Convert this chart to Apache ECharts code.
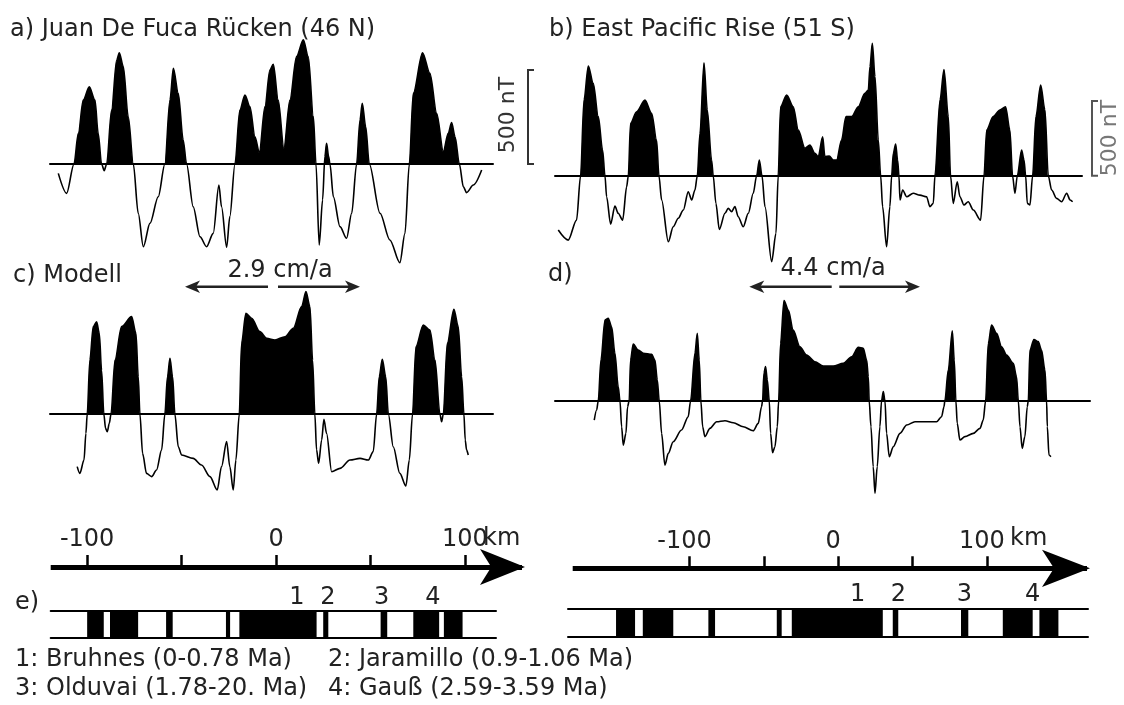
<!DOCTYPE html>
<html><head><meta charset="utf-8">
<script src="https://cdn.jsdelivr.net/npm/echarts@6/dist/echarts.min.js"></script>
<style>html,body{margin:0;padding:0;background:#fff}#c{width:1124px;height:705px}</style>
</head><body><div id="c"></div>
<script>
// ---- data (km along profile, anomaly in nT) ----
const profileA_km = [-115.2,-110.8,-106.9,-104.6,-102.0,-98.8,-95.8,-94.1,-92.3,-90.9,-89.6,-87.0,-84.3,-82.9,-80.8,-78.2,-75.5,-72.9,-70.2,-66.7,-62.3,-58.8,-56.1,-54.3,-51.7,-49.1,-47.3,-43.8,-40.2,-36.7,-33.2,-30.2,-28.8,-26.1,-24.4,-21.7,-19.1,-16.4,-13.8,-11.1,-8.8,-5.8,-3.2,-1.4,1.2,4.2,7.4,10.9,14.5,17.1,19.8,21.2,22.9,24.7,25.9,26.8,27.9,28.6,30.4,33.9,37.4,40.1,42.7,44.5,45.7,47.5,49.4,55.1,60.3,65.6,68.3,70.6,72.7,77.6,81.5,85.1,88.6,91.2,93.0,94.8,97.1,99.2,100.9,104.5,108.9];
const profileA_nT = [-50,-156,0,163,340,411,340,163,0,-35,0,287,553,592,518,252,0,-262,-440,-316,-174,0,340,509,376,128,0,-227,-387,-440,-369,-112,-227,-443,-280,0,287,367,305,145,60,305,500,530,340,83,340,571,660,571,252,0,-431,-191,39,110,39,0,-174,-333,-395,-262,0,234,323,199,0,-262,-404,-525,-369,0,376,592,482,269,66,163,220,145,0,-121,-152,-112,-32];

const profileB_km = [-188.3,-181.6,-176.0,-173.3,-171.0,-168.1,-164.8,-161.4,-158.5,-156.9,-155.8,-153.1,-150.2,-148.0,-145.0,-142.3,-141.2,-139.7,-135.6,-130.0,-125.5,-122.2,-120.6,-118.8,-114.3,-111.0,-107.6,-104.2,-100.9,-98.6,-96.4,-94.8,-93.0,-90.3,-88.1,-85.2,-84.1,-82.3,-80.0,-76.2,-74.0,-71.7,-69.5,-67.3,-63.9,-60.5,-57.2,-54.9,-53.1,-51.3,-49.3,-44.8,-41.9,-40.4,-38.8,-34.7,-30.3,-26.9,-22.4,-19.1,-15.7,-13.5,-10.5,-9.0,-6.1,-3.4,-1.1,2.2,5.2,9.0,13.5,17.9,20.2,21.3,22.9,24.7,26.9,28.5,29.8,32.5,34.7,35.9,37.0,38.6,39.9,40.8,41.5,43.3,46.0,50.4,54.9,59.4,61.6,63.9,65.0,68.4,71.1,74.0,75.5,77.3,80.0,81.8,84.5,87.4,90.8,95.7,98.0,99.8,104.2,108.7,112.5,115.4,117.2,118.8,120.4,123.3,124.9,126.0,127.1,128.9,130.7,132.9,136.1,139.0,141.2,143.5,146.8,150.2,153.6,155.9,157.6];
const profileB_nT = [-367,-435,-300,0,511,741,624,399,173,0,-142,-327,-205,-254,-300,-74,0,354,432,511,421,241,0,-164,-446,-345,-288,-232,-108,-164,-97,0,286,763,444,106,0,-187,-363,-254,-221,-243,-209,-277,-345,-254,-119,0,106,0,-209,-581,-390,0,466,545,466,309,185,207,151,128,263,128,133,106,106,241,399,399,466,556,579,736,894,669,241,0,-209,-480,-209,0,151,214,106,0,-164,-97,-142,-119,-131,-142,-209,-187,0,511,718,399,0,-187,-41,-142,-198,-176,-232,-300,0,309,399,444,466,309,0,-119,0,173,106,0,-187,-198,0,399,613,444,0,-97,-153,-176,-119,-164,-176];

const profileC_km = [-105.2,-103.8,-101.6,-100.6,-99.9,-98.5,-96.7,-94.9,-93.5,-92.3,-91.1,-90.2,-89.3,-88.2,-87.3,-85.2,-81.7,-76.4,-74.1,-72.9,-72.0,-70.6,-68.5,-65.8,-63.2,-60.5,-58.8,-57.4,-56.1,-54.7,-53.5,-51.7,-49.9,-43.8,-39.4,-34.9,-31.1,-28.8,-26.1,-24.4,-22.6,-21.2,-19.4,-18.2,-15.9,-12.9,-8.5,-4.9,-0.5,4.8,9.2,13.6,15.9,18.0,19.4,20.6,21.5,22.6,24.2,25.4,26.8,29.5,33.9,39.2,44.5,48.9,51.5,53.3,54.7,56.3,58.1,59.5,62.1,65.6,68.8,70.6,72.3,74.1,78.0,81.5,84.2,86.8,87.7,88.6,90.7,94.2,96.5,98.3,99.5,100.2,100.9,101.8];
const profileC_nT = [-280,-316,-245,-103,0,287,465,491,429,234,0,-76,-94,-50,0,287,465,518,429,199,0,-209,-316,-333,-298,-191,0,199,296,199,0,-174,-218,-236,-271,-333,-404,-280,-147,-280,-404,-245,0,376,535,509,438,402,394,411,456,571,651,571,287,0,-191,-262,-138,-28,-103,-307,-289,-245,-236,-245,-200,0,199,291,199,0,-174,-316,-383,-245,0,358,473,447,287,0,-41,0,376,557,465,199,0,-138,-191,-218];

const profileD_km = [-164.1,-162.5,-161.4,-159.6,-156.9,-154.7,-152.4,-150.2,-148.0,-146.8,-145.7,-144.6,-142.8,-141.7,-140.6,-139.7,-137.9,-134.5,-131.1,-125.5,-123.3,-121.7,-120.4,-118.8,-116.6,-114.3,-111.0,-105.4,-100.9,-99.3,-96.4,-94.8,-93.5,-92.4,-91.2,-89.7,-86.3,-81.8,-76.2,-70.6,-63.9,-57.2,-53.8,-51.6,-50.9,-50.0,-48.9,-47.7,-46.4,-45.5,-44.2,-42.6,-41.0,-40.1,-38.8,-36.5,-33.6,-30.3,-25.8,-21.3,-15.7,-10.1,-3.4,3.4,9.0,13.5,16.8,19.1,20.2,20.8,22.0,23.5,24.7,26.2,28.0,29.1,30.3,31.4,32.5,34.3,37.0,41.5,46.0,51.6,59.4,66.1,69.5,71.1,71.7,74.0,76.7,78.0,79.1,80.0,81.8,85.2,90.8,95.3,97.5,99.1,100.9,103.1,106.5,109.8,113.2,117.7,119.9,121.1,122.2,123.7,125.5,127.1,127.8,128.9,131.6,134.5,136.7,139.0,140.1,140.6,141.7,143.0];
const profileD_nT = [-131,-63,0,275,545,556,500,320,95,0,-176,-300,-221,-41,0,275,383,342,320,313,275,140,0,-221,-435,-356,-277,-198,-108,0,320,455,275,0,-176,-243,-187,-142,-135,-149,-176,-203,-153,-41,0,185,230,140,0,-221,-351,-311,-176,0,387,676,613,477,365,309,263,234,234,252,297,360,354,275,162,0,-176,-446,-626,-446,-176,0,61,0,-221,-378,-311,-221,-164,-142,-142,-142,-108,-41,0,207,473,275,0,-153,-266,-243,-221,-187,-131,0,387,511,455,365,309,252,162,0,-176,-322,-243,-41,0,342,414,399,342,207,0,-176,-367,-378];

// normal-polarity blocks [start km, end km]
const stripesLeft = [[-100.0,-91.2],[-87.9,-73.0],[-58.2,-54.7],[-26.5,-24.3],[-19.4,21.5],[25.0,27.7],[55.4,58.9],[72.7,86.4],[88.9,98.8]];
const stripesRight = [[-149.5,-136.7],[-131.5,-111.0],[-87.4,-82.9],[-41.4,-38.1],[-31.3,29.9],[36.6,40.3],[82.5,87.4],[110.6,130.7],[135.2,148.0]];
const stripeNumbers = ['1','2','3','4'];
const stripeNumKmLeft = [11.0, 27.5, 56.0, 83.1];
const stripeNumKmRight = [13.0, 40.3, 84.7, 130.7];
const kmTicks = [-100,-50,0,50,100];
const kmLabels = [-100,0,100];
const legendLines = ['1: Bruhnes (0-0.78 Ma)','2: Jaramillo (0.9-1.06 Ma)','3: Olduvai (1.78-20. Ma)','4: Gauß (2.59-3.59 Ma)'];

// ---- chart ----
const FONT = 'DejaVu Sans';
const TXT = '#222';
const chart = echarts.init(document.getElementById('c'), null, {renderer:'canvas'});
const pairs = (xs, ys) => xs.map((x, i) => [x, ys[i]]);

const grids = [
  {left:50, top:32.4, width:443, height:244.4},
  {left:555, top:27.7, width:527, height:251.6},
  {left:50, top:282.4, width:443, height:244.4},
  {left:555, top:252.7, width:535, height:251.6},
  {left:50.7, top:540, width:471.3, height:27},
  {left:572.7, top:541.3, width:514.3, height:27},
  {left:50.7, top:611, width:445.3, height:26.7},
  {left:568, top:609, width:520, height:27.7}
].map(g => Object.assign({containLabel:false, outerBoundsMode:'none'}, g));

const profX = (gi, min, max) => ({type:'value', gridIndex:gi, min, max,
  axisLine:{show:true, onZero:true, lineStyle:{color:'#000', width:2}},
  axisTick:{show:false}, axisLabel:{show:false}, splitLine:{show:false}});
const kmAxis = (gi, min, max, sym, pad) => ({type:'value', gridIndex:gi, min, max, position:'bottom',
  axisLine:{show:true, onZero:false, lineStyle:{color:'#000', width:5, cap:'butt'}, symbol:['none','arrow'], symbolSize:sym, symbolOffset:[0,3]},
  axisTick:{show:true, inside:true, length:12, lineStyle:{color:'#000', width:2.5}, customValues:kmTicks},
  axisLabel:{show:true, inside:true, margin:15, customValues:kmLabels, color:TXT, fontSize:24, fontFamily:FONT, padding:pad},
  splitLine:{show:false}});
const stripeAxis = (gi, min, max, pos) => ({type:'value', gridIndex:gi, min, max, position:pos,
  axisLine:{show:true, onZero:false, lineStyle:{color:'#000', width:2}},
  axisTick:{show:false}, axisLabel:{show:false}, splitLine:{show:false}});

const xAxis = [
  profX(0, -119.6, 114.9), profX(1, -190.5, 163.9), profX(2, -119.6, 114.9), profX(3, -190.5, 169.3),
  kmAxis(4, -119.3, 130.2, [27,45], [0,0,0,0]), kmAxis(5, -178.6, 167.3, [28,48], [0,10,0,0]),
  stripeAxis(6, -119.3, 116.5, 'bottom'), stripeAxis(6, -119.3, 116.5, 'top'),
  stripeAxis(7, -181.8, 167.9, 'bottom'), stripeAxis(7, -181.8, 167.9, 'top')
];
const yr = [[-600,700],[-700,1000],[-600,700],[-700,1000],[0,1],[0,1],[0,1],[0,1]];
const yAxis = yr.map((r, i) => ({type:'value', gridIndex:i, min:r[0], max:r[1], show:false, splitLine:{show:false}}));

const profiles = [pairs(profileA_km, profileA_nT), pairs(profileB_km, profileB_nT), pairs(profileC_km, profileC_nT), pairs(profileD_km, profileD_nT)];
const series = [];
profiles.forEach((d, i) => {
  series.push({type:'line', xAxisIndex:i, yAxisIndex:i, data:d, smooth:0.3, smoothMonotone:'x', symbol:'none', showSymbol:false,
    lineStyle:{width:0, opacity:0}, areaStyle:{opacity:1, color:'rgba(0,0,0,0)'}, z:2, silent:true});
  series.push({type:'line', xAxisIndex:i, yAxisIndex:i, data:d, smooth:0.3, smoothMonotone:'x', symbol:'none', showSymbol:false,
    lineStyle:{color:'#000', width:1.6}, itemStyle:{color:'#000'}, z:3, silent:true});
});
const stripeRender = (params, api) => {
  const p0 = api.coord([api.value(0), 1]);
  const p1 = api.coord([api.value(1), 0]);
  return {type:'rect', shape:{x:p0[0], y:p0[1], width:p1[0]-p0[0], height:p1[1]-p0[1]}, style:{fill:'#000'}};
};
series.push({type:'custom', xAxisIndex:6, yAxisIndex:6, data:stripesLeft, renderItem:stripeRender, z:3, silent:true});
series.push({type:'custom', xAxisIndex:8, yAxisIndex:7, data:stripesRight, renderItem:stripeRender, z:3, silent:true});

chart.setOption({animation:false, backgroundColor:'#fff', grid:grids, xAxis, yAxis, series});

// positive half of each profile filled black: gradient with a hard stop at the zero line of its axis
const areaUpdates = [];
profiles.forEach((d, i) => {
  const yTop = chart.convertToPixel({yAxisIndex:i}, yr[i][1]);
  const yBot = chart.convertToPixel({yAxisIndex:i}, yr[i][0]);
  const yZero = chart.convertToPixel({yAxisIndex:i}, 0);
  const f = (yZero - yTop) / (yBot - yTop);
  const grad = new echarts.graphic.LinearGradient(0, yTop, 0, yBot, [
    {offset:0, color:'#000'}, {offset:f, color:'#000'},
    {offset:f, color:'rgba(0,0,0,0)'}, {offset:1, color:'rgba(0,0,0,0)'}], true);
  areaUpdates[i*2] = {areaStyle:{opacity:1, color:grad}};
  areaUpdates[i*2+1] = {};
});
areaUpdates.push({}, {});
chart.setOption({series:areaUpdates});

// ---- annotations ----
const T = (text, x, y, opt) => Object.assign({type:'text', x, y, silent:true,
  style:Object.assign({text, fill:TXT, fontSize:24, fontFamily:FONT, align:'left', verticalAlign:'middle'}, (opt && opt.style) || {})},
  opt && opt.rotation !== undefined ? {rotation:opt.rotation} : {});
const arrowPair = (x1, x2, xm1, xm2, y) => [
  {type:'line', shape:{x1:x1+10, y1:y, x2:xm1, y2:y}, style:{stroke:TXT, lineWidth:2.5}, silent:true},
  {type:'polygon', shape:{points:[[x1,y],[x1+15,y-6.2],[x1+11,y],[x1+15,y+6.2]]}, style:{fill:TXT}, silent:true},
  {type:'line', shape:{x1:xm2, y1:y, x2:x2-10, y2:y}, style:{stroke:TXT, lineWidth:2.5}, silent:true},
  {type:'polygon', shape:{points:[[x2,y],[x2-15,y-6.2],[x2-11,y],[x2-15,y+6.2]]}, style:{fill:TXT}, silent:true}
];
const g = [
  T('a) Juan De Fuca Rücken (46 N)', 10, 30),
  T('b) East Pacific Rise (51 S)', 549, 30),
  T('c) Modell', 13, 276),
  T('d)', 548, 275),
  T('2.9 cm/a', 280, 271, {style:{align:'center'}}),
  T('4.4 cm/a', 833, 269, {style:{align:'center'}}),
  T('e)', 15, 603),
  T('km', 483, 539),
  T('km', 1010, 539),
  T(legendLines[0], 15, 660), T(legendLines[1], 328, 660),
  T(legendLines[2], 15, 689), T(legendLines[3], 328, 689),
  T('500 nT', 508, 115, {rotation:Math.PI/2, style:{align:'center', fontSize:22, fill:'#333'}}),
  T('500 nT', 1110, 138, {rotation:Math.PI/2, style:{align:'center', fontSize:22, fill:'#777'}}),
  {type:'polyline', shape:{points:[[534,70],[528,70],[528,164],[534,164]]}, style:{stroke:'#333', lineWidth:2, fill:null}, silent:true},
  {type:'polyline', shape:{points:[[1098,101],[1092,101],[1092,175.7],[1098,175.7]]}, style:{stroke:'#555', lineWidth:2, fill:null}, silent:true}
].concat(arrowPair(185, 360, 268, 278, 286.7), arrowPair(749.3, 920, 831.7, 839.3, 286.7));
stripeNumbers.forEach((s, i) => {
  const xl = chart.convertToPixel({xAxisIndex:6}, stripeNumKmLeft[i]);
  const xr = chart.convertToPixel({xAxisIndex:8}, stripeNumKmRight[i]);
  g.push(T(s, xl, 598, {style:{align:'center'}}));
  g.push(T(s, xr, 595, {style:{align:'center'}}));
});
chart.setOption({graphic:{elements:g}});
</script></body></html>
